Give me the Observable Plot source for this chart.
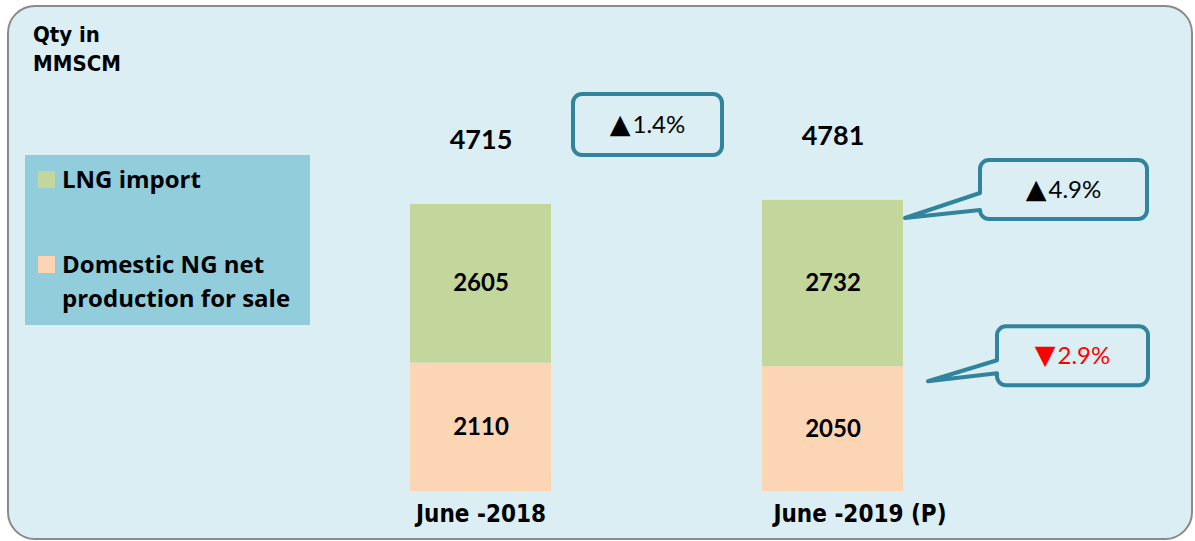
<!DOCTYPE html>
<html>
<head>
<meta charset="utf-8">
<script src="https://cdn.jsdelivr.net/npm/d3@7"></script>
<script src="https://cdn.jsdelivr.net/npm/@observablehq/plot@0.6"></script>
<style>
  html, body { margin: 0; padding: 0; background: #ffffff; }
  #wrap { position: relative; width: 1195px; height: 541px; overflow: hidden; font-family: Lato, "Open Sans", sans-serif; }
  #frame { position: absolute; left: 7px; top: 5px; width: 1186px; height: 535px; box-sizing: border-box;
           border: 2px solid #8a8a8a; border-radius: 28px; background: #daeef3; }
  #title { position: absolute; left: 33px; top: 20px; font-family: "DejaVu Sans Condensed", "DejaVu Sans", sans-serif;
           font-stretch: condensed; font-weight: bold; font-size: 22px; line-height: 29px; color: #000; }
  #legend { position: absolute; left: 25px; top: 155px; width: 285px; height: 170px; background: #92cddc; }
  .item { position: absolute; left: 13px; font-family: "Open Sans", Lato, sans-serif; font-weight: bold; font-size: 24px; line-height: 34px; color: #000; }
  .sw { position: absolute; left: 0; top: 9px; width: 17px; height: 17px; }
  .lbl { position: absolute; left: 24px; top: 0; white-space: nowrap; }
  #chart { position: absolute; left: 0; top: 0; }
  #chart svg { background: transparent; }
  g[aria-label="x-axis tick label"] text { font-weight: bold; font-stretch: condensed; }
</style>
</head>
<body>
<div id="wrap">
  <div id="frame"></div>
  <div id="title">Qty in<br>MMSCM</div>
  <div id="legend"></div>
  <div id="chart"></div>
</div>
<script>
// ---- data ----
const categories = ["June -2018", "June -2019 (P)"];
const domesticProduction = [2110, 2050];
const lngImport = [2605, 2732];
const totals = [4715, 4781];
const seriesKeys = ["Domestic", "LNG"];
const seriesLabels = ["Domestic NG net production for sale", "LNG import"];
const seriesColors = ["#fcd5b5", "#c3d69b"];
const changeTotal = "1.4%";
const changeLNG = "4.9%";
const changeDomestic = "2.9%";

const rows = categories.flatMap((c, i) => [
  {cat: c, series: "Domestic", value: domesticProduction[i]},
  {cat: c, series: "LNG", value: lngImport[i]}
]);
const totalRows = categories.map((c, i) => ({cat: c, total: totals[i]}));

// ---- legend (HTML) ----
const legend = document.getElementById("legend");
const legendItems = [
  {key: "LNG", text: "LNG import", top: 7},
  {key: "Domestic", text: "Domestic NG net<br>production for sale", top: 92}
];
legendItems.forEach(it => {
  const d = document.createElement("div");
  d.className = "item";
  d.style.top = it.top + "px";
  const col = seriesColors[seriesKeys.indexOf(it.key)];
  d.innerHTML = `<div class="sw" style="background:${col}"></div><div class="lbl">${it.text}</div>`;
  legend.appendChild(d);
});

// ---- chart ----
const k = 287 / 4715; // px per unit
const axisFont = "DejaVu Sans Condensed, DejaVu Sans, sans-serif";
const plot = Plot.plot({
  width: 1195,
  height: 541,
  marginLeft: 199,
  marginRight: 81,
  marginTop: 0,
  marginBottom: 50,
  style: {background: "transparent", fontFamily: "Lato, sans-serif", color: "#000"},
  x: {domain: categories, padding: 0.5994, label: null},
  y: {domain: [0, 5000], range: [491, 491 - 5000 * k], axis: null},
  color: {domain: seriesKeys, range: seriesColors},
  marks: [
    Plot.barY(rows, {x: "cat", y: "value", fill: "series"}),
    Plot.text(rows, Plot.stackY({x: "cat", y: "value", z: "series", text: d => String(d.value),
      fontSize: 24, fontWeight: "bold", fill: "#000"})),
    Plot.text(totalRows, {x: "cat", y: "total", text: d => String(d.total), dy: -64,
      fontSize: 27, fontWeight: "bold", fill: "#000"}),
    Plot.axisX([categories[0]], {tickSize: 0, tickPadding: 13, fontSize: 24, fontWeight: "bold",
      fontFamily: axisFont, label: null}),
    Plot.axisX([categories[1]], {tickSize: 0, tickPadding: 13, fontSize: 24, fontWeight: "bold",
      fontFamily: axisFont, label: null, dx: 27})
  ]
});
document.getElementById("chart").appendChild(plot);

// ---- callout annotations anchored to scales ----
const xs = plot.scale("x"), ys = plot.scale("y");
const bw = xs.bandwidth;
const xPos = c => xs.apply(c);
const yPos = v => ys.apply(v);
const svg = d3.select(plot);
const ann = svg.append("g").attr("class", "callouts");

function calloutPath(x, y, w, h, r, tail) {
  let p = `M${x + r},${y} H${x + w - r} A${r},${r} 0 0 1 ${x + w},${y + r} V${y + h - r} A${r},${r} 0 0 1 ${x + w - r},${y + h} H${x + r} A${r},${r} 0 0 1 ${x},${y + h - r}`;
  if (tail) p += ` V${tail.y2} L${tail.tx},${tail.ty} L${x},${tail.y1}`;
  p += ` V${y + r} A${r},${r} 0 0 1 ${x + r},${y} Z`;
  return p;
}
function callout(x, y, w, h, tail, arrow, arrowColor, text, textColor) {
  ann.append("path").attr("d", calloutPath(x, y, w, h, 9, tail))
    .attr("fill", "#daeef3").attr("stroke", "#31849b").attr("stroke-width", 4)
    .attr("stroke-linejoin", "round");
  const t = ann.append("text").attr("x", x + w / 2).attr("y", y + h / 2).attr("dy", "0.35em")
    .attr("text-anchor", "middle").attr("font-family", "Lato, sans-serif").attr("font-size", 24);
  t.append("tspan").attr("fill", arrowColor).attr("font-family", "DejaVu Sans, sans-serif").attr("font-size", 27).text(arrow);
  t.append("tspan").attr("fill", textColor).attr("dx", 2).text(text);
}
const x1r = xPos(categories[0]) + bw, x2r = xPos(categories[1]) + bw;
// total change
callout(x1r + 22, yPos(totals[0]) - 110, 149, 61, null, "▲", "#000", changeTotal, "#000");
// LNG change
{
  const bx = x2r + 77, by = yPos(totals[1]) - 40;
  callout(bx, by, 167, 59, {y1: by + 33, y2: by + 50, tx: x2r + 2, ty: yPos(totals[1]) + 18},
    "▲", "#000", changeLNG, "#000");
}
// Domestic change
{
  const bx = x2r + 94, by = yPos(domesticProduction[1]) - 40;
  callout(bx, by, 151, 59, {y1: by + 34, y2: by + 47, tx: x2r + 25, ty: yPos(domesticProduction[1]) + 15},
    "▼", "#ff0000", changeDomestic, "#ff0000");
}
</script>
</body>
</html>
